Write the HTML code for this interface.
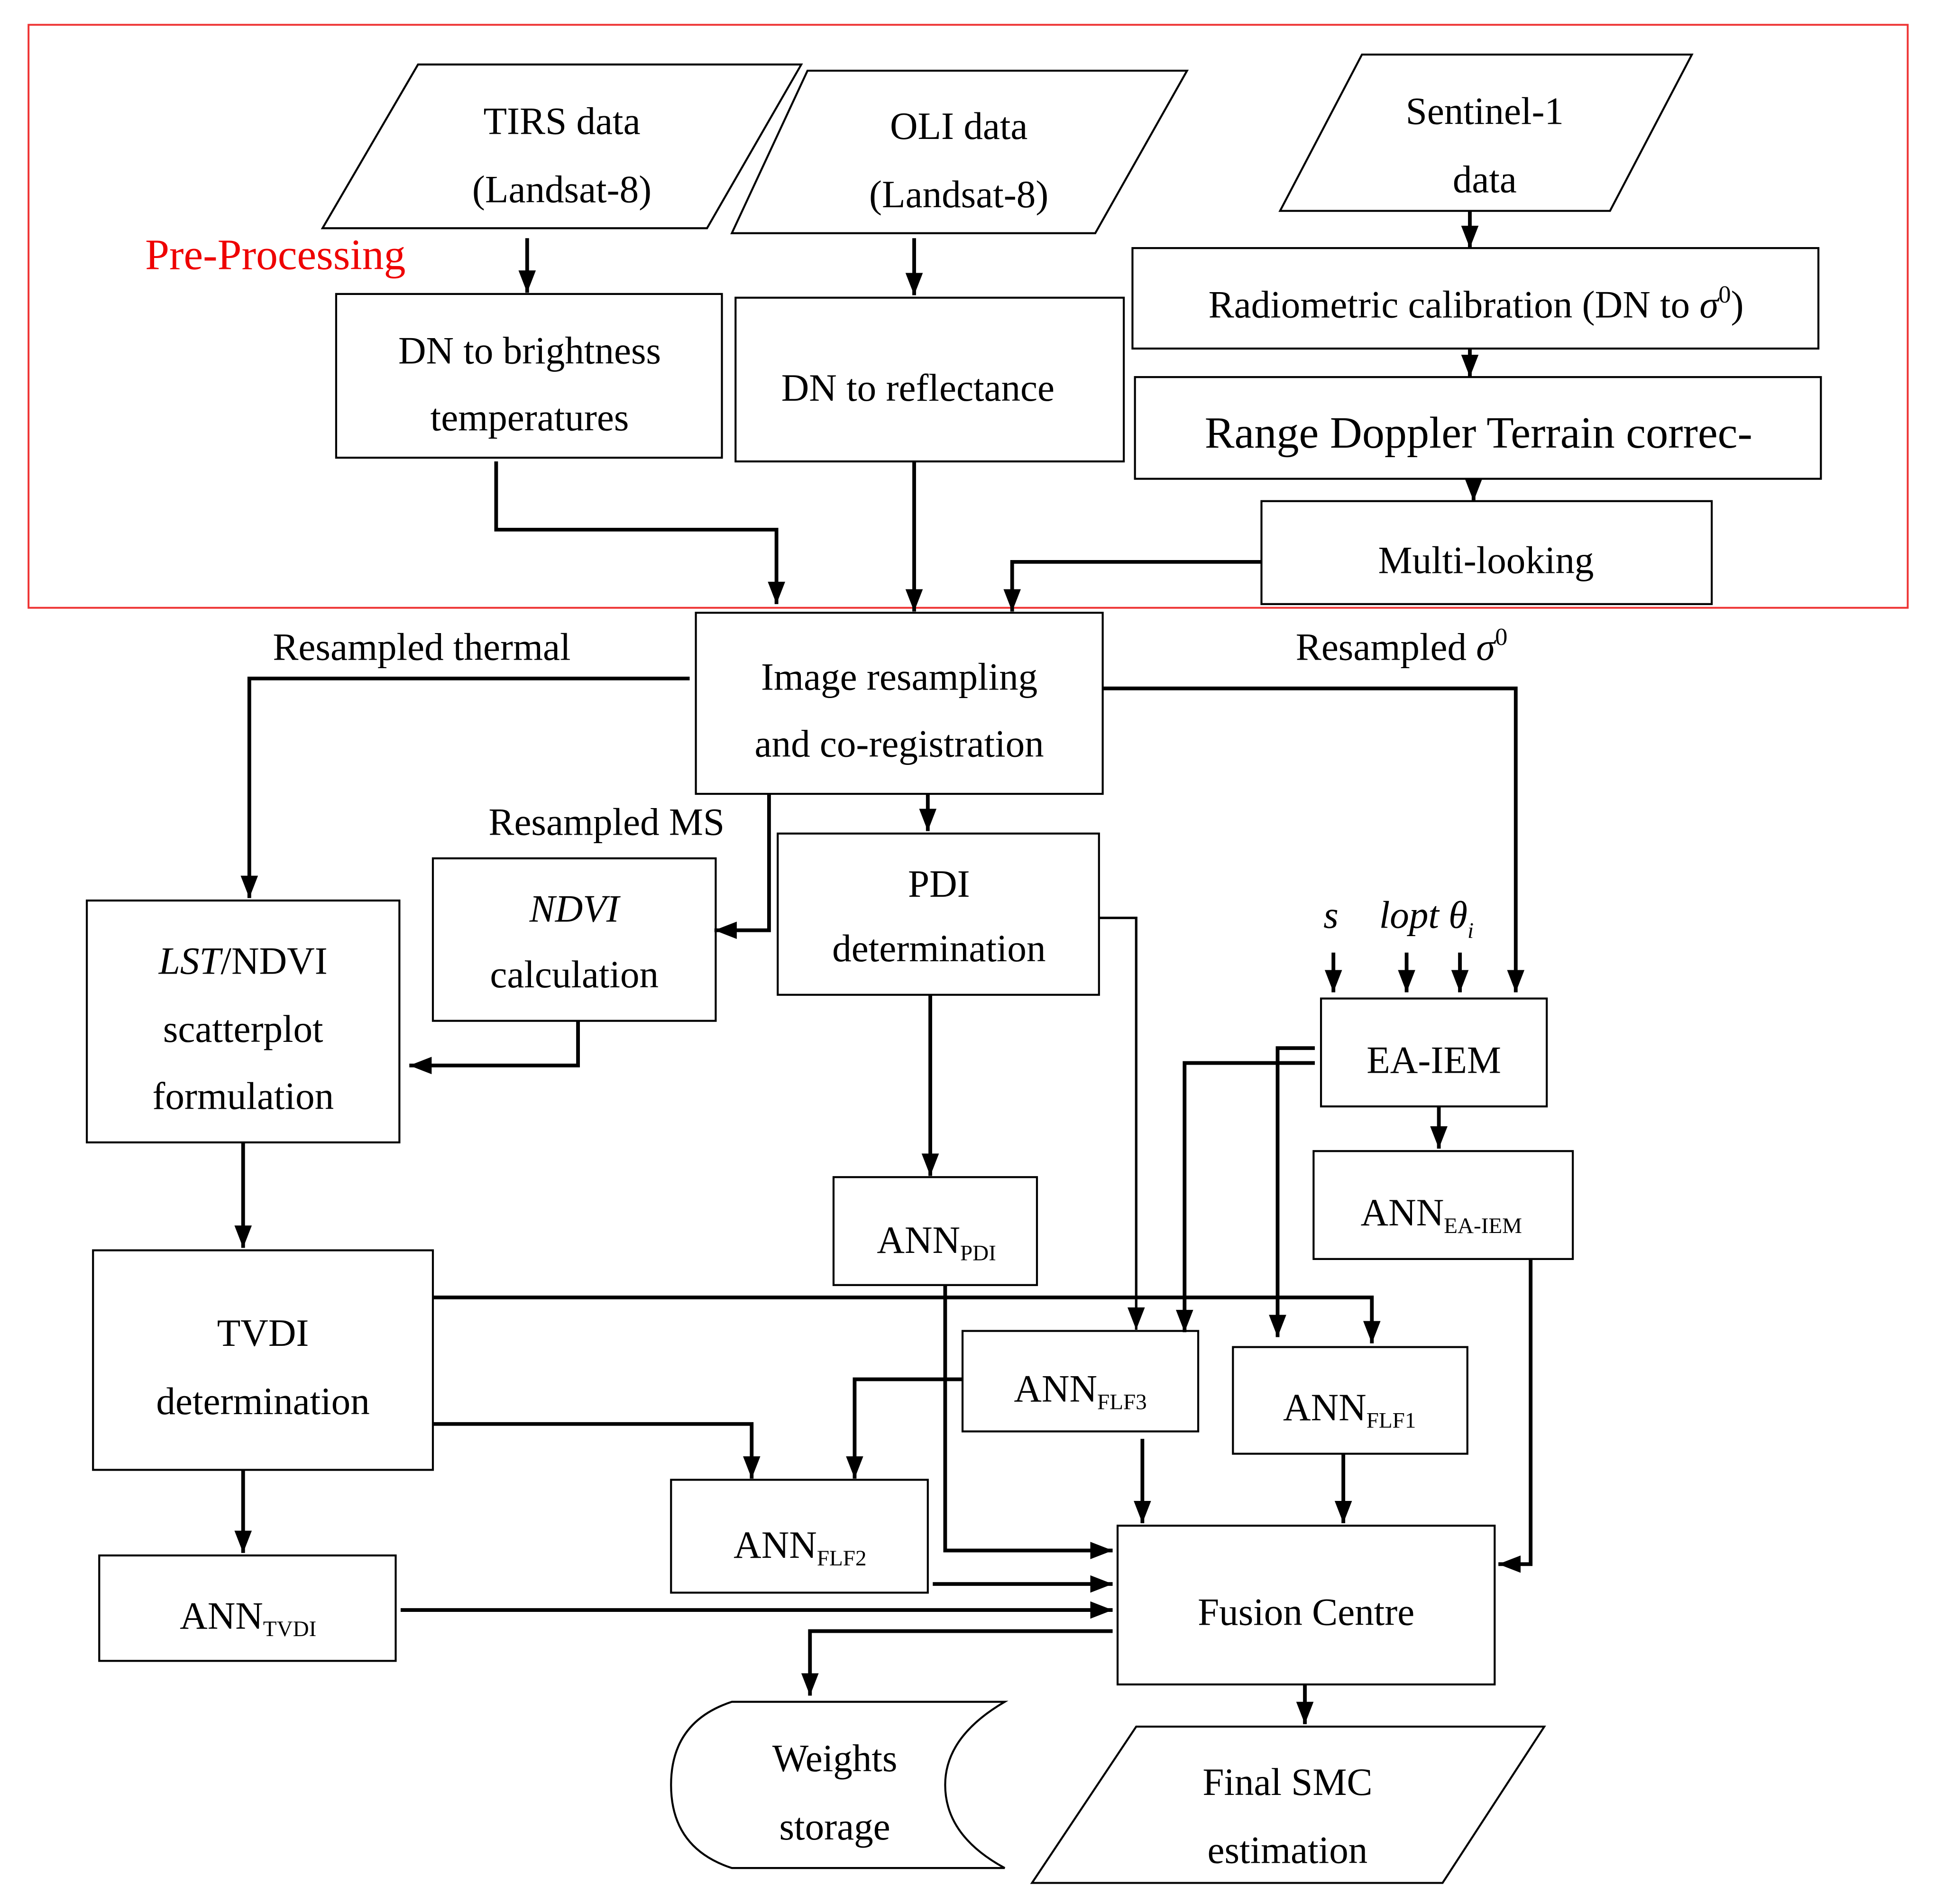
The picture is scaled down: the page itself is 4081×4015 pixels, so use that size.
<!DOCTYPE html>
<html><head><meta charset="utf-8"><style>
html,body{margin:0;padding:0;background:#fff;}
svg{display:block;}
text{font-family:"Liberation Serif",serif;font-size:31px;fill:#000;text-anchor:middle;}
.b{fill:#fff;stroke:#000;stroke-width:1.6;}
.c{fill:none;stroke:#000;stroke-width:3;}
</style></head><body>
<svg width="4081" height="4015" viewBox="0 0 1560 1535" preserveAspectRatio="none" xmlns="http://www.w3.org/2000/svg">
<defs>
<marker id="m" viewBox="0 0 18 14" refX="18" refY="7" markerWidth="18" markerHeight="14" markerUnits="userSpaceOnUse" orient="auto"><path d="M0,0 L18,7 L0,14 Z" fill="#000"/></marker></defs>
<rect x="23" y="20" width="1515" height="470" fill="none" stroke="#e33" stroke-width="1.5"/>
<text x="222" y="217" style="fill:#e00;font-size:35px">Pre-Processing</text>
<polygon class="b" points="337,52 646,52 570,184 260,184"/>
<text x="453" y="108">TIRS data</text><text x="453" y="163">(Landsat-8)</text>
<polygon class="b" points="651,57 957,57 883,188 590,188"/>
<text x="773" y="112">OLI data</text><text x="773" y="167">(Landsat-8)</text>
<polygon class="b" points="1098,44 1364,44 1298,170 1032,170"/>
<text x="1197" y="100">Sentinel-1</text><text x="1197" y="155">data</text>
<rect class="b" x="271" y="237" width="311" height="132"/>
<text x="427" y="293">DN to brightness</text><text x="427" y="347">temperatures</text>
<rect class="b" x="593" y="240" width="313" height="132"/>
<text x="740" y="323">DN to reflectance</text>
<rect class="b" x="913" y="200" width="553" height="81"/>
<text x="1190" y="256">Radiometric calibration (DN to  <tspan font-style="italic">σ</tspan><tspan font-size="20" dy="-12">0</tspan><tspan dy="12">)</tspan></text>
<rect class="b" x="915" y="304" width="553" height="82"/>
<text x="1192" y="361" style="font-size:36px">Range Doppler Terrain correc-</text>
<rect class="b" x="1017" y="404" width="363" height="83"/>
<text x="1198" y="462">Multi-looking</text>
<rect class="b" x="561" y="494" width="328" height="146"/>
<text x="725" y="556">Image resampling</text><text x="725" y="610">and co-registration</text>
<text x="340" y="532">Resampled thermal</text>
<text x="1130" y="532">Resampled  <tspan font-style="italic">σ</tspan><tspan font-size="20" dy="-12">0</tspan></text>
<text x="489" y="673">Resampled MS</text>
<rect class="b" x="349" y="692" width="228" height="131"/>
<text x="463" y="743" font-style="italic">NDVI</text><text x="463" y="796">calculation</text>
<rect class="b" x="627" y="672" width="259" height="130"/>
<text x="757" y="723">PDI</text><text x="757" y="775">determination</text>
<rect class="b" x="70" y="726" width="252" height="195"/>
<text x="196" y="785"><tspan font-style="italic">LST</tspan>/NDVI</text><text x="196" y="840">scatterplot</text><text x="196" y="894">formulation</text>
<text x="1073" y="748" font-style="italic">s</text>
<text x="1150" y="748" font-style="italic">lopt θ<tspan font-size="18" dy="8">i</tspan></text>
<rect class="b" x="1065" y="805" width="182" height="87"/>
<text x="1156" y="865">EA-IEM</text>
<rect class="b" x="1059" y="928" width="209" height="87"/>
<text x="1162" y="988">ANN<tspan font-size="18" dy="6">EA-IEM</tspan></text>
<rect class="b" x="672" y="949" width="164" height="87"/>
<text x="755" y="1010">ANN<tspan font-size="18" dy="6">PDI</tspan></text>
<rect class="b" x="75" y="1008" width="274" height="177"/>
<text x="212" y="1085">TVDI</text><text x="212" y="1140">determination</text>
<rect class="b" x="776" y="1073" width="190" height="81"/>
<text x="871" y="1130">ANN<tspan font-size="18" dy="6">FLF3</tspan></text>
<rect class="b" x="994" y="1086" width="189" height="86"/>
<text x="1088" y="1145">ANN<tspan font-size="18" dy="6">FLF1</tspan></text>
<rect class="b" x="541" y="1193" width="207" height="91"/>
<text x="645" y="1256">ANN<tspan font-size="18" dy="6">FLF2</tspan></text>
<rect class="b" x="80" y="1254" width="239" height="85"/>
<text x="200" y="1313">ANN<tspan font-size="18" dy="6">TVDI</tspan></text>
<rect class="b" x="901" y="1230" width="304" height="128"/>
<text x="1053" y="1310">Fusion Centre</text>
<path class="b" d="M590,1372 L810,1372 Q762,1400 762,1439 Q762,1480 810,1506 L590,1506 Q541,1490 541,1439 Q541,1388 590,1372 Z"/>
<text x="673" y="1428">Weights</text><text x="673" y="1483">storage</text>
<polygon class="b" points="916,1392 1245,1392 1163,1518 832,1518"/>
<text x="1038" y="1447">Final SMC</text><text x="1038" y="1502">estimation</text>
<g class="c">
<path d="M425,192 V236" marker-end="url(#m)"/>
<path d="M737,192 V238" marker-end="url(#m)"/>
<path d="M1185,170 V200" marker-end="url(#m)"/>
<path d="M1185,281 V304" marker-end="url(#m)"/>
<path d="M1188,386 V404" marker-end="url(#m)"/>
<path d="M400,372 V427 H626 V487" marker-end="url(#m)"/>
<path d="M737,372 V493" marker-end="url(#m)"/>
<path d="M1017,453 H816 V493" marker-end="url(#m)"/>
<path d="M556,547 H201 V724" marker-end="url(#m)"/>
<path d="M889,555 H1222 V800" marker-end="url(#m)"/>
<path d="M620,640 V750 H576" marker-end="url(#m)"/>
<path d="M748,640 V670" marker-end="url(#m)"/>
<path d="M466,823 V859 H330" marker-end="url(#m)"/>
<path d="M750,802 V948" marker-end="url(#m)"/>
<path d="M886,740 H916 V1072" stroke-width="2" marker-end="url(#m)"/>
<path d="M1075,768 V800" marker-end="url(#m)"/>
<path d="M1134,768 V800" marker-end="url(#m)"/>
<path d="M1177,768 V800" marker-end="url(#m)"/>
<path d="M1060,845 H1030 V1078" marker-end="url(#m)"/>
<path d="M1060,857 H955 V1074" marker-end="url(#m)"/>
<path d="M1160,892 V926" marker-end="url(#m)"/>
<path d="M196,921 V1006" marker-end="url(#m)"/>
<path d="M349,1046 H1106 V1083" marker-end="url(#m)"/>
<path d="M349,1148 H606 V1192" marker-end="url(#m)"/>
<path d="M776,1112 H689 V1192" marker-end="url(#m)"/>
<path d="M196,1185 V1252" marker-end="url(#m)"/>
<path d="M762,1036 V1250 H897" marker-end="url(#m)"/>
<path d="M752,1277 H897" marker-end="url(#m)"/>
<path d="M323,1298 H897" marker-end="url(#m)"/>
<path d="M921,1160 V1228" marker-end="url(#m)"/>
<path d="M1083,1172 V1228" marker-end="url(#m)"/>
<path d="M1234,1015 V1261 H1208" marker-end="url(#m)"/>
<path d="M897,1315 H653 V1367" marker-end="url(#m)"/>
<path d="M1052,1358 V1390" marker-end="url(#m)"/>
</g>
</svg>
</body></html>
